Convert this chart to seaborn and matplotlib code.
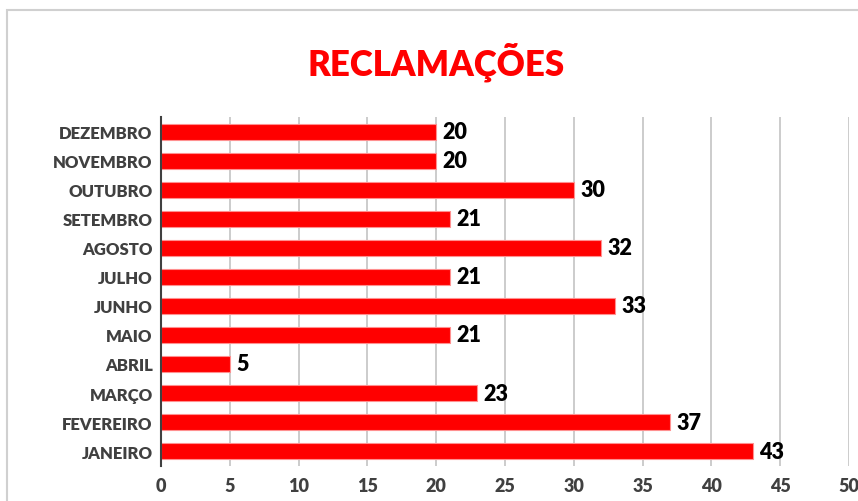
import matplotlib
matplotlib.use("Agg")
import matplotlib.pyplot as plt
import seaborn as sns
import pandas as pd
from matplotlib.patches import Rectangle

months = ["DEZEMBRO", "NOVEMBRO", "OUTUBRO", "SETEMBRO", "AGOSTO", "JULHO",
          "JUNHO", "MAIO", "ABRIL", "MARÇO", "FEVEREIRO", "JANEIRO"]
values = [20, 20, 30, 21, 32, 21, 33, 21, 5, 23, 37, 43]
x_ticks = [0, 5, 10, 15, 20, 25, 30, 35, 40, 45, 50]

df = pd.DataFrame({"mes": months, "reclamacoes": values})

sns.set_style("white")
plt.rcParams["font.family"] = ["Lato", "DejaVu Sans"]

fig = plt.figure(figsize=(8.58, 5.02), dpi=100)
ax = fig.add_axes([0.1876, 0.0707, 0.8019, 0.6933])

# outer chart frame (cut off at right/bottom like the screenshot)
fig.patches.append(Rectangle((7 / 858, -0.1), 1.2, 1.1 - 11 / 502,
                             transform=fig.transFigure, fill=False,
                             edgecolor="#d0d0d0", linewidth=1.5))

sns.barplot(data=df, x="reclamacoes", y="mes", order=months, color="#ff0000",
            edgecolor="#ff9090", linewidth=0.8, width=0.55, saturation=1, ax=ax)

for i, v in enumerate(values):
    ax.text(v + 0.45, i, str(v), va="center", ha="left", fontsize=15.5,
            fontweight="heavy", color="black")

ax.set_xlim(0, 50)
ax.set_ylim(len(months) - 0.5, -0.5)
ax.set_xticks(x_ticks)
ax.set_xlabel("")
ax.set_ylabel("")
ax.grid(axis="x", color="#c8c8c8", linewidth=1.3)
ax.set_axisbelow(True)
for s in ["top", "right", "bottom"]:
    ax.spines[s].set_visible(False)
ax.spines["left"].set_color("#404040")
ax.spines["left"].set_linewidth(1.5)

ax.tick_params(axis="x", length=0, labelsize=13, labelcolor="#404040", pad=8)
ax.tick_params(axis="y", length=0, labelsize=12, labelcolor="#404040", pad=6)
ax.set_yticks([i + 0.5 for i in range(-1, len(months))], minor=True)
ax.tick_params(axis="y", which="minor", length=4, width=1.3, color="#404040")
for lab in ax.get_xticklabels() + ax.get_yticklabels():
    lab.set_fontweight("heavy")

fig.text(436 / 858, 1 - 62 / 502, "RECLAMAÇÕES", ha="center", va="center",
         fontsize=25, fontweight="heavy", color="#ff0000")

fig.savefig("out.png", dpi=100)
